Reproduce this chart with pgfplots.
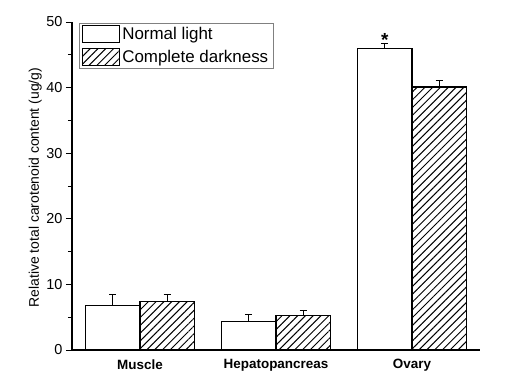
\documentclass[border=0pt]{standalone}
\usepackage{fontspec}
\setmainfont{Liberation Sans}
\usepackage{pgfplots}
\pgfplotsset{compat=1.18}
\usetikzlibrary{patterns.meta}
\pgfplotsset{mylegend/.style={legend image code/.code={\draw[##1] (0bp,-8.5bp) rectangle (37bp,8.5bp);}}}
\begin{document}
\begin{tikzpicture}
\useasboundingbox (-72bp,-30bp) rectangle (439bp,350bp);
\begin{axis}[
 scale only axis, width=408bp, height=328bp,
 axis x line=bottom, axis y line=left,
 axis line style={-, line width=1.2bp, black},
 xmin=-0.5, xmax=2.5, ymin=0, ymax=50,
 xtick={0,1,2}, xticklabels={Muscle,Hepatopancreas,Ovary},
 x tick label style={font=\fontsize{13.5}{16}\selectfont\bfseries},
 major x tick style={draw=none},
 ytick={0,10,...,50}, minor y tick num=1,
 tick align=outside, major tick length=6bp, minor tick length=4bp,
 y tick style={line width=1bp, black},
 y tick label style={font=\fontsize{14.5}{17}\selectfont},
 /pgf/number format/assume math mode=true,
 ylabel={Relative total carotenoid content (ug/g)},
 ylabel style={font=\fontsize{14}{16}\selectfont, at={(axis description cs:-0.09,0.495)}, anchor=center},
 ybar, bar width=0.4,
 legend style={at={(axis description cs:0.017,0.997)}, anchor=north west, draw=gray, font=\fontsize{17}{20}\selectfont, legend cell align=left, row sep=4.5bp},
 clip=false,
]
\addplot[draw=black, fill=white, line width=1.2bp, bar shift=-0.2, mylegend,
  error bars/.cd, y dir=plus, y explicit,
  error bar style={line width=1.2bp, black},
  error mark options={rotate=90, line width=1.2bp, mark size=3.5bp, black}]
  coordinates {(0,6.8) +- (0,1.7) (1,4.4) +- (0,1.05) (2,46.0) +- (0,0.75)};
\addlegendentry{Normal light}
\addplot[draw=black, line width=1.2bp, bar shift=0.2, mylegend,
  pattern={Lines[angle=45, distance=5.5bp, line width=1bp]}, pattern color=black,
  error bars/.cd, y dir=plus, y explicit,
  error bar style={line width=1.2bp, black},
  error mark options={rotate=90, line width=1.2bp, mark size=3.5bp, black}]
  coordinates {(0,7.45) +- (0,1.0) (1,5.25) +- (0,0.8) (2,40.1) +- (0,0.95)};
\addlegendentry{Complete darkness}
\node[font=\fontsize{19}{20}\selectfont\bfseries] at (axis cs:1.8,47.3) {*};
\end{axis}
\end{tikzpicture}
\end{document}
